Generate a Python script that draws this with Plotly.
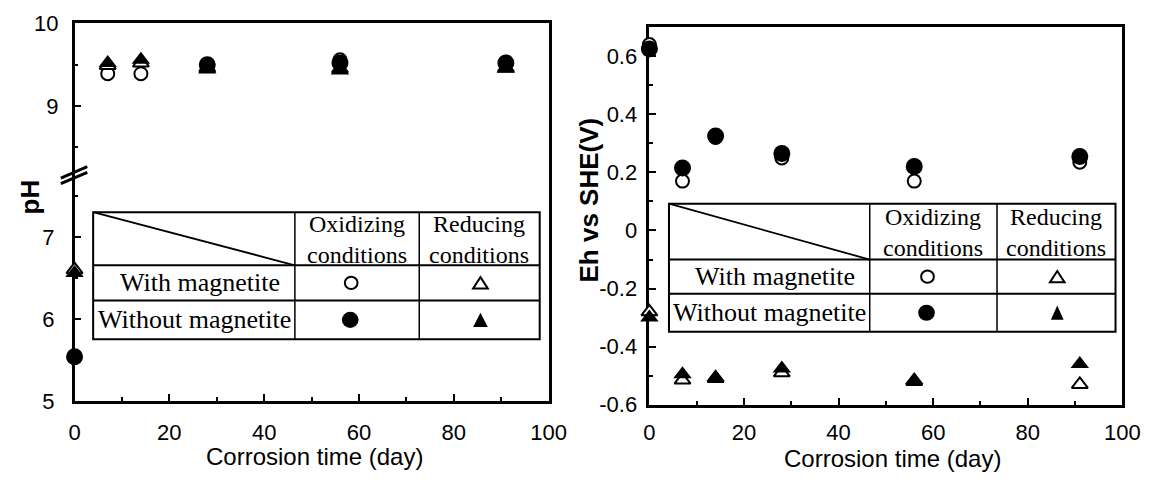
import numpy as np
import plotly.graph_objects as go

W, H = 1158, 487


def px(x):
    return x / W


def py(y):
    return 1 - y / H


# ---- data -------------------------------------------------------------
days = [0, 7, 14, 28, 56, 91]

# pH
ph_ox_mag = [5.53, 9.39, 9.39, 9.50, 9.56, 9.53]
ph_ox_nomag = [5.54, None, None, 9.50, 9.52, 9.52]
ph_red_mag = [6.60, 9.49, 9.52, 9.46, 9.45, 9.46]
ph_red_nomag = [6.56, 9.52, 9.56, 9.44, 9.43, 9.45]

# Eh vs SHE (V)
eh_ox_mag = [0.64, 0.17, 0.32, 0.25, 0.17, 0.235]
eh_ox_nomag = [0.625, 0.215, 0.325, 0.265, 0.22, 0.255]
eh_red_mag = [-0.28, -0.515, -0.51, -0.49, -0.52, -0.53]
eh_red_nomag = [-0.30, -0.495, -0.505, -0.475, -0.515, -0.46]

x_ticks = [0, 20, 40, 60, 80, 100]
x_minor = [10, 30, 50, 70, 90]
ph_low_ticks = [5, 6, 7]
ph_high_ticks = [9, 10]
eh_ticks = [-0.6, -0.4, -0.2, 0, 0.2, 0.4, 0.6]
eh_labels = ["-0.6", "-0.4", "-0.2", "0", "0.2", "0.4", "0.6"]

PH_BREAK = 8.0

# ---- styles -----------------------------------------------------------
STYLES = {
    "ox_mag": dict(symbol="circle", color="white", size=13,
                   line=dict(color="black", width=2)),
    "ox_nomag": dict(symbol="circle", color="black", size=17,
                     line=dict(color="black", width=0)),
    "red_mag": dict(symbol="triangle-up", color="white", size=14,
                    line=dict(color="black", width=2)),
    "red_nomag": dict(symbol="triangle-up", color="black", size=16,
                      line=dict(color="black", width=0)),
}

SANS = "Liberation Sans, Arial, sans-serif"
SERIF = "Liberation Serif, Times New Roman, serif"

fig = go.Figure()

ph_series = [("ox_mag", ph_ox_mag), ("ox_nomag", ph_ox_nomag),
             ("red_mag", ph_red_mag), ("red_nomag", ph_red_nomag)]
eh_series = [("ox_mag", eh_ox_mag), ("ox_nomag", eh_ox_nomag),
             ("red_mag", eh_red_mag), ("red_nomag", eh_red_nomag)]

d = np.array(days, dtype=float)
for key, vals in ph_series:
    v = np.array([np.nan if a is None else a for a in vals], dtype=float)
    low = v < PH_BREAK
    high = v > PH_BREAK
    for mask, xa, ya in ((low, "x", "y"), (high, "x2", "y2")):
        fig.add_trace(go.Scatter(
            x=d[mask], y=v[mask], mode="markers", xaxis=xa, yaxis=ya,
            marker=STYLES[key], cliponaxis=False, hoverinfo="x+y"))

for key, vals in eh_series:
    fig.add_trace(go.Scatter(
        x=days, y=vals, mode="markers", xaxis="x3", yaxis="y3",
        marker=STYLES[key], cliponaxis=False, hoverinfo="x+y"))

# ---- axes -------------------------------------------------------------
tickfont = dict(family=SANS, size=22, color="black")
common = dict(showline=True, linecolor="black", linewidth=2.5,
              showgrid=False, zeroline=False, layer="below traces",
              tickfont=tickfont, tickcolor="black",
              ticklabeloverflow="allow")

xbase = dict(common, range=[0, 100], ticks="inside", ticklen=7, tickwidth=2,
             tickvals=x_ticks,
             minor=dict(ticks="inside", ticklen=4, tickwidth=2,
                        tickvals=x_minor, tickcolor="black"))

left_dom = [px(70), px(554)]
right_dom = [px(657), px(1140)]

fig.update_layout(
    xaxis=dict(xbase, domain=left_dom, anchor="y", ticklabelstandoff=10),
    xaxis2=dict(common, domain=left_dom, anchor="y2", side="top",
                range=[0, 100], showticklabels=False, ticks=""),
    yaxis=dict(common, domain=[py(410), py(170)], anchor="x",
               range=[5, 5 + 240 / 86.5], mirror=True,
               ticks="inside", ticklen=7, tickwidth=2,
               tickvals=ph_low_ticks,
               minor=dict(ticks="inside", ticklen=4, tickwidth=2,
                          tickvals=[5.5, 6.5, 7.5], tickcolor="black"),
               ticklabelstandoff=13),
    yaxis2=dict(common, domain=[py(170), py(12)], anchor="x2",
                range=[10 - 158 / 87, 10], mirror=True,
                ticks="inside", ticklen=7, tickwidth=2,
                tickvals=ph_high_ticks,
                minor=dict(ticks="inside", ticklen=4, tickwidth=2,
                           tickvals=[8.5, 9.5], tickcolor="black"),
                ticklabelstandoff=9),
    xaxis3=dict(xbase, domain=right_dom, anchor="y3", mirror=True,
                ticklabelstandoff=6),
    yaxis3=dict(common, domain=[py(414), py(16)], anchor="x3",
                range=[-0.6, 0.7], mirror=True,
                ticks="inside", ticklen=7, tickwidth=2,
                tickvals=eh_ticks, ticktext=eh_labels,
                minor=dict(ticks="inside", ticklen=4, tickwidth=2,
                           tickvals=[-0.5, -0.3, -0.1, 0.1, 0.3, 0.5],
                           tickcolor="black"),
                ticklabelstandoff=5),
)

# ---- condition tables drawn inside each panel -------------------------
shapes = []
annotations = []


def line(x0, y0, x1, y1, w=2):
    shapes.append(dict(type="line", xref="paper", yref="paper",
                       x0=px(x0), y0=py(y0), x1=px(x1), y1=py(y1),
                       line=dict(color="black", width=w)))


def text(s, x, y, size, family=SERIF, bold=False, angle=0):
    annotations.append(dict(
        text=f"<b>{s}</b>" if bold else s, x=px(x), y=py(y),
        xref="paper", yref="paper", showarrow=False,
        xanchor="center", yanchor="middle", textangle=angle,
        font=dict(family=family, size=size, color="black")))


def circle(cx, cy, dia, filled):
    r = dia / 2
    shapes.append(dict(type="circle", xref="paper", yref="paper",
                       x0=px(cx - r), x1=px(cx + r),
                       y0=py(cy + r), y1=py(cy - r),
                       fillcolor="black" if filled else "white",
                       line=dict(color="black", width=0 if filled else 2)))


def triangle(cx, cy, w, h, filled):
    path = (f"M {px(cx - w / 2)},{py(cy + h / 2)} "
            f"L {px(cx + w / 2)},{py(cy + h / 2)} "
            f"L {px(cx)},{py(cy - h / 2)} Z")
    shapes.append(dict(type="path", xref="paper", yref="paper", path=path,
                       fillcolor="black" if filled else "white",
                       line=dict(color="black", width=0 if filled else 2)))


def table(x0, x1, x2, x3, y0, y1, y2, y3, tri_w):
    shapes.append(dict(type="rect", xref="paper", yref="paper",
                       x0=px(x0), x1=px(x3), y0=py(y3), y1=py(y0),
                       fillcolor="white", line=dict(color="black", width=2)))
    line(x0, y1, x3, y1)
    line(x0, y2, x3, y2)
    line(x1, y0, x1, y3, 1.5)
    line(x2, y0, x2, y3, 1.5)
    line(x0, y0, x1, y1, 1.8)
    c1 = (x1 + x2) / 2
    c2 = (x2 + x3) / 2
    hdr = (y0 + y1) / 2
    text("Oxidizing<br>conditions", c1, hdr + 1, 24)
    text("Reducing<br>conditions", c2, hdr + 1, 24)
    r1 = (y1 + y2) / 2
    r2 = (y2 + y3) / 2
    text("With magnetite", (x0 + x1) / 2 + 6, r1, 26)
    text("Without magnetite", (x0 + x1) / 2, r2, 26)
    circle(c1 - 6, r1, 13, False)
    triangle(c2 + 1, r1, 15, 12, False)
    circle(c1 - 7, r2, 17, True)
    triangle(c2 + 1, r2, tri_w, 15, True)


table(89, 295, 422, 545, 211, 267, 304, 345, 15)
table(677, 882, 1012, 1133, 202, 261, 297, 337, 13)

# axis break marks on the pH axis
line(56, 175, 83, 163, 3)
line(56, 181, 83, 169, 3)

# axis titles
text("pH", 24, 195, 26, family=SANS, bold=True, angle=-90)
text("Eh vs SHE(V)", 595, 198, 26, family=SANS, bold=True, angle=-90)
text("Corrosion time (day)", 315, 469, 24, family=SANS)
text("Corrosion time (day)", 905, 471, 24, family=SANS)

fig.update_layout(
    shapes=shapes, annotations=annotations,
    width=W, height=H, margin=dict(l=0, r=0, t=0, b=0),
    plot_bgcolor="white", paper_bgcolor="white", showlegend=False,
)

fig.write_html("out.html")
